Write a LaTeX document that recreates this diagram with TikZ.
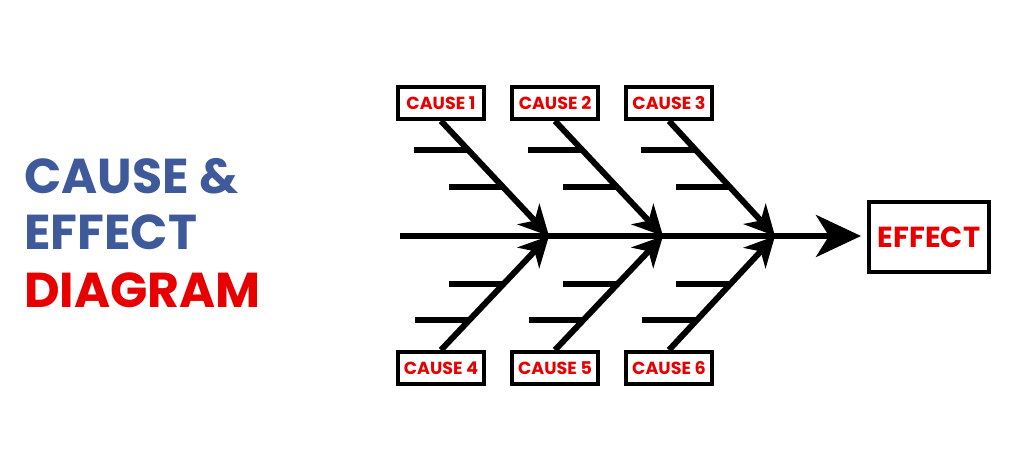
\documentclass[tikz,border=0pt]{standalone}
\usepackage{fontspec}
\setmainfont{Poppins}
\usetikzlibrary{arrows.meta}
\definecolor{titleblue}{RGB}{62,90,155}
\definecolor{causered}{RGB}{232,0,0}
\begin{document}
\begin{tikzpicture}[x=1pt,y=-1pt,
  causebox/.style={draw=black,line width=4pt,minimum width=86pt,minimum height=32pt,inner sep=0pt,
    text=causered,font=\fontsize{17.5}{17.5}\selectfont\bfseries},
  effectbox/.style={draw=black,line width=3.5pt,minimum width=120pt,minimum height=70pt,inner sep=0pt,
    text=causered,font=\fontsize{29}{29}\selectfont\bfseries},
  bone/.style={line width=6pt},
  ribarrow/.style={line width=6pt,-{Stealth[length=30pt,width=30pt,inset=9pt]}},
  spinearrow/.style={line width=6pt,-{Stealth[length=45pt,width=42pt,inset=13pt]}},
  titletext/.style={anchor=base west,inner sep=0pt,font=\fontsize{49}{49}\selectfont\bfseries}
]
\useasboundingbox (0,0) rectangle (1022,470);
\fill[white] (0,0) rectangle (1022,470);

% title
\node[titletext,text=titleblue] (t1) at (24,194) {CAUSE \&};
\node[titletext,text=titleblue] (t2) at (24,250) {EFFECT};
\node[titletext,text=causered] (t3) at (24,307) {DIAGRAM};

% effect
\node[effectbox] (eff) at (929,237) {EFFECT};
\coordinate (s0) at (400,236);
\coordinate (etip) at (861,236);
\draw[spinearrow] (s0) -- (etip);

% tips on spine
\coordinate (p1) at (549,236);
\coordinate (p2) at (663,236);
\coordinate (p3) at (775,236);

% cause boxes
\node[causebox] (c1) at (441,103) {CAUSE 1};
\node[causebox] (c2) at (555,103) {CAUSE 2};
\node[causebox] (c3) at (669,103) {CAUSE 3};
\node[causebox] (c4) at (441,368) {CAUSE 4};
\node[causebox] (c5) at (555,368) {CAUSE 5};
\node[causebox] (c6) at (669,368) {CAUSE 6};

% upper ribs
\foreach \c/\p in {c1/p1,c2/p2,c3/p3}{
  \draw[ribarrow] (\c.south) -- (\p);
  \path (\c.south) -- (\p) coordinate[pos=0.248] (\c a) coordinate[pos=0.573] (\c b);
  \draw[bone] (\c a) -- ++(-54,0);
  \draw[bone] (\c b) -- ++(-54,0);
}
% lower ribs
\foreach \c/\p in {c4/p1,c5/p2,c6/p3}{
  \draw[ribarrow] (\c.north) -- (\p);
  \path (\c.north) -- (\p) coordinate[pos=0.578] (\c a) coordinate[pos=0.259] (\c b);
  \draw[bone] (\c a) -- ++(-54,0);
  \draw[bone] (\c b) -- ++(-54,0);
}
\end{tikzpicture}
\end{document}
